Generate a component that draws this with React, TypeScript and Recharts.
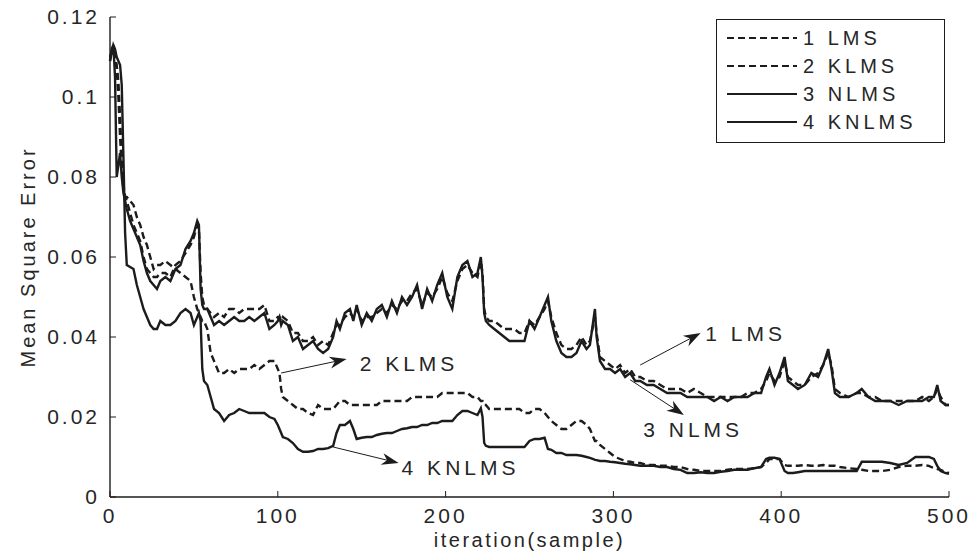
import React from "react";
import { LineChart, Line, XAxis, YAxis, Legend, ReferenceLine, ReferenceDot } from "recharts";

// iteration index (x) shared by all four learning curves
const iterations = [
  0, 1, 2, 3, 4, 5, 6, 7, 8, 9,
  10, 12, 14, 16, 18, 20, 22, 24, 26, 28,
  30, 33, 36, 39, 42, 45, 48, 50, 52, 53,
  54, 55, 56, 58, 60, 62, 65, 68, 71, 74,
  77, 80, 83, 86, 89, 92, 95, 98, 100, 101,
  102, 103, 106, 109, 112, 115, 118, 121, 124, 127,
  130, 133, 135, 137, 140, 143, 145, 147, 150, 153,
  156, 159, 162, 165, 168, 171, 174, 177, 180, 183,
  186, 189, 192, 195, 198, 201, 204, 207, 210, 213,
  216, 219, 221, 222, 223, 224, 226, 229, 232, 235,
  238, 241, 244, 247, 250, 253, 256, 259, 261, 263,
  266, 269, 272, 275, 278, 281, 284, 286, 288, 289,
  290, 292, 295, 298, 301, 304, 307, 310, 313, 316,
  320, 324, 328, 332, 336, 340, 344, 348, 352, 356,
  360, 364, 368, 372, 376, 380, 384, 388, 391, 393,
  396, 399, 402, 404, 407, 410, 414, 418, 422, 425,
  428, 430, 432, 435, 440, 445, 448, 452, 456, 460,
  465, 470, 475, 480, 484, 488, 491, 493, 495, 498,
  500,
];

const lms = [
  0.11, 0.111, 0.112, 0.11, 0.108, 0.104, 0.095, 0.085, 0.078, 0.075,
  0.074, 0.071, 0.068, 0.066, 0.064, 0.06, 0.057, 0.056, 0.055, 0.055,
  0.056, 0.056, 0.055, 0.058, 0.059, 0.061, 0.063, 0.065, 0.068, 0.067,
  0.056, 0.05, 0.048, 0.047, 0.046, 0.045, 0.046, 0.045, 0.047, 0.047,
  0.046, 0.047, 0.047, 0.047, 0.047, 0.048, 0.044, 0.044, 0.045, 0.045,
  0.044, 0.045, 0.044, 0.041, 0.041, 0.039, 0.039, 0.04, 0.038, 0.039,
  0.038, 0.041, 0.043, 0.043, 0.045, 0.046, 0.045, 0.047, 0.044, 0.045,
  0.045, 0.046, 0.047, 0.046, 0.048, 0.047, 0.049, 0.049, 0.051, 0.052,
  0.048, 0.051, 0.05, 0.052, 0.055, 0.051, 0.049, 0.054, 0.057, 0.058,
  0.056, 0.055, 0.059, 0.056, 0.047, 0.045, 0.044, 0.044, 0.043, 0.042,
  0.042, 0.042, 0.041, 0.041, 0.044, 0.043, 0.045, 0.047, 0.049, 0.045,
  0.041, 0.038, 0.037, 0.037, 0.038, 0.04, 0.038, 0.039, 0.043, 0.045,
  0.041, 0.035, 0.034, 0.033, 0.032, 0.033, 0.031, 0.032, 0.03, 0.03,
  0.029, 0.029, 0.028, 0.027, 0.027, 0.027, 0.026, 0.027, 0.026, 0.025,
  0.025, 0.025, 0.025, 0.025, 0.025, 0.026, 0.026, 0.027, 0.029, 0.031,
  0.029, 0.03, 0.034, 0.03, 0.029, 0.028, 0.028, 0.03, 0.031, 0.033,
  0.036, 0.033, 0.027, 0.026, 0.025, 0.026, 0.026, 0.025, 0.025, 0.024,
  0.024, 0.024, 0.024, 0.024, 0.025, 0.024, 0.025, 0.027, 0.025, 0.023,
  0.023,
];

const klms = [
  0.11, 0.111, 0.112, 0.11, 0.107, 0.1, 0.09, 0.082, 0.077, 0.075,
  0.075, 0.074, 0.073, 0.07, 0.068, 0.065, 0.063, 0.06, 0.057, 0.058,
  0.058, 0.059, 0.058, 0.057, 0.056, 0.055, 0.054, 0.05, 0.047, 0.046,
  0.045, 0.044, 0.044, 0.042, 0.036, 0.034, 0.031, 0.031, 0.032, 0.031,
  0.032, 0.032, 0.032, 0.033, 0.032, 0.033, 0.034, 0.034, 0.032, 0.031,
  0.027, 0.025, 0.024, 0.023, 0.022, 0.022, 0.021, 0.0205, 0.023, 0.022,
  0.022, 0.022, 0.023, 0.024, 0.024, 0.023, 0.023, 0.023, 0.023, 0.023,
  0.023, 0.023, 0.024, 0.024, 0.024, 0.024, 0.024, 0.024, 0.025, 0.025,
  0.025, 0.025, 0.025, 0.025, 0.026, 0.026, 0.026, 0.026, 0.026, 0.026,
  0.025, 0.025, 0.024, 0.024, 0.023, 0.023, 0.022, 0.022, 0.022, 0.022,
  0.022, 0.022, 0.022, 0.021, 0.021, 0.022, 0.022, 0.021, 0.02, 0.019,
  0.018, 0.017, 0.017, 0.018, 0.019, 0.019, 0.018, 0.017, 0.015, 0.014,
  0.014, 0.013, 0.012, 0.011, 0.01, 0.0095, 0.009, 0.0088, 0.0085, 0.0085,
  0.008, 0.008, 0.0078, 0.0078, 0.0075, 0.0075, 0.007, 0.0068, 0.0065, 0.0065,
  0.0065, 0.0065, 0.0068, 0.007, 0.007, 0.007, 0.0072, 0.0075, 0.0085, 0.0095,
  0.0095, 0.0095, 0.008, 0.0078, 0.0078, 0.0078, 0.008, 0.0078, 0.0078, 0.008,
  0.0078, 0.0078, 0.0078, 0.0075, 0.0072, 0.007, 0.0068, 0.0065, 0.0065, 0.0065,
  0.0068, 0.0075, 0.0078, 0.0078, 0.008, 0.0078, 0.0072, 0.007, 0.0068, 0.0062,
  0.006,
];

const nlms = [
  0.109, 0.112, 0.113, 0.105, 0.08, 0.083, 0.086, 0.08, 0.076, 0.074,
  0.072, 0.069, 0.067, 0.065, 0.063, 0.059, 0.056, 0.054, 0.053, 0.052,
  0.054, 0.055, 0.054, 0.057, 0.058, 0.062, 0.064, 0.066, 0.069, 0.068,
  0.052, 0.048, 0.047, 0.047, 0.045, 0.043, 0.044, 0.043, 0.044, 0.045,
  0.044, 0.044, 0.045, 0.044, 0.045, 0.046, 0.042, 0.043, 0.044, 0.045,
  0.043, 0.044, 0.043, 0.039, 0.04, 0.037, 0.038, 0.039, 0.037, 0.036,
  0.037, 0.04, 0.044, 0.042, 0.046, 0.047, 0.044, 0.048, 0.043, 0.046,
  0.044, 0.047, 0.048, 0.045, 0.049, 0.046, 0.05, 0.048, 0.05, 0.053,
  0.047, 0.052, 0.049, 0.053, 0.056, 0.05, 0.047, 0.055, 0.058, 0.059,
  0.055, 0.056, 0.06, 0.055, 0.046, 0.044, 0.043, 0.042, 0.041, 0.04,
  0.039, 0.039, 0.039, 0.039, 0.044, 0.042, 0.045, 0.048, 0.05, 0.044,
  0.039, 0.036, 0.035, 0.035, 0.036, 0.039, 0.037, 0.038, 0.044, 0.047,
  0.04, 0.034, 0.032, 0.032, 0.031, 0.032, 0.03, 0.031, 0.029, 0.029,
  0.028, 0.028, 0.027, 0.026, 0.026, 0.026, 0.025, 0.025, 0.025, 0.025,
  0.024, 0.025, 0.024, 0.025, 0.025, 0.025, 0.026, 0.026, 0.03, 0.032,
  0.028, 0.031, 0.035, 0.029, 0.028, 0.027, 0.028, 0.031, 0.03, 0.033,
  0.037, 0.032, 0.026, 0.025, 0.025, 0.026, 0.027, 0.025, 0.024, 0.024,
  0.024, 0.023, 0.024, 0.024, 0.024, 0.025, 0.025, 0.028, 0.024, 0.023,
  0.023,
];

const knlms = [
  0.109, 0.111, 0.113, 0.112, 0.11, 0.109, 0.108, 0.103, 0.085, 0.066,
  0.058, 0.0575, 0.057, 0.053, 0.05, 0.047, 0.045, 0.043, 0.042, 0.042,
  0.044, 0.043, 0.043, 0.044, 0.046, 0.047, 0.046, 0.043, 0.045, 0.046,
  0.044, 0.032, 0.029, 0.028, 0.025, 0.022, 0.021, 0.019, 0.0205, 0.021,
  0.022, 0.0215, 0.021, 0.021, 0.021, 0.021, 0.02, 0.0195, 0.018, 0.017,
  0.016, 0.015, 0.0145, 0.0135, 0.012, 0.0113, 0.0113, 0.0115, 0.012, 0.012,
  0.0122, 0.0128, 0.016, 0.018, 0.018, 0.019, 0.017, 0.0145, 0.0148, 0.015,
  0.015, 0.0155, 0.0158, 0.016, 0.016, 0.0165, 0.017, 0.0172, 0.0175, 0.0175,
  0.018, 0.018, 0.0185, 0.0185, 0.019, 0.019, 0.019, 0.0205, 0.0215, 0.0215,
  0.021, 0.0205, 0.0222, 0.02, 0.0135, 0.0128, 0.0125, 0.0125, 0.0125, 0.0125,
  0.0125, 0.0125, 0.0125, 0.0125, 0.014, 0.0145, 0.0145, 0.0148, 0.012, 0.0118,
  0.011, 0.011, 0.0105, 0.0105, 0.0105, 0.0103, 0.01, 0.0098, 0.0095, 0.0093,
  0.0092, 0.009, 0.009, 0.0088, 0.0087, 0.0085, 0.0083, 0.0082, 0.008, 0.0078,
  0.0078, 0.0078, 0.0075, 0.0075, 0.007, 0.0068, 0.006, 0.006, 0.0062, 0.006,
  0.006, 0.0063, 0.0065, 0.0068, 0.0068, 0.0068, 0.0072, 0.0075, 0.0095, 0.0098,
  0.0098, 0.0095, 0.0065, 0.006, 0.006, 0.0062, 0.0065, 0.0065, 0.0065, 0.0065,
  0.0065, 0.0065, 0.0065, 0.0065, 0.0065, 0.0065, 0.0088, 0.0088, 0.0088, 0.0088,
  0.0085, 0.008, 0.0085, 0.01, 0.01, 0.01, 0.0095, 0.0078, 0.0065, 0.006,
  0.0058,
];

const xTicks = [0, 100, 200, 300, 400, 500];
const yTicks = [0, 0.02, 0.04, 0.06, 0.08, 0.1, 0.12];

const seriesNames = { lms: "1 LMS", klms: "2 KLMS", nlms: "3 NLMS", knlms: "4 KNLMS" };
const seriesDash = { lms: "7 4", klms: "7 4", nlms: undefined, knlms: undefined };

// arrow annotations in data units: [iter, mse] -> [iter, mse]
const arrows = [
  { from: [316, 0.033], to: [352, 0.041] },
  { from: [310, 0.0293], to: [342, 0.0205] },
  { from: [102, 0.031], to: [141, 0.0345] },
  { from: [133, 0.0125], to: [172, 0.0085] },
];
const notes = [
  { text: "1 LMS", at: [353, 0.041] },
  { text: "3 NLMS", at: [316, 0.0168] },
  { text: "2 KLMS", at: [147, 0.0335] },
  { text: "4 KNLMS", at: [172, 0.0073] },
];

const data = iterations.map((iter, i) => ({
  iter,
  lms: lms[i],
  klms: klms[i],
  nlms: nlms[i],
  knlms: knlms[i],
}));

const INK = "#1c1c1c";
const TXT = "#262626";
const FONT = "'Liberation Sans', Arial, Helvetica, sans-serif";
const tickText = { fontFamily: FONT, fontSize: 21, letterSpacing: 3, fill: TXT };
const noteText = { fontFamily: FONT, fontSize: 21, letterSpacing: 4, fill: TXT };

const BottomTick = ({ x, y, payload }) => (
  <g>
    <line x1={x} y1={y} x2={x} y2={y - 6} stroke={INK} strokeWidth={1} />
    <text x={x} y={y + 26} textAnchor="middle" style={tickText}>{payload.value}</text>
  </g>
);
const TopTick = ({ x, y }) => (
  <line x1={x} y1={y} x2={x} y2={y + 6} stroke={INK} strokeWidth={1} />
);
const LeftTick = ({ x, y, payload }) => (
  <g>
    <line x1={x} y1={y} x2={x + 6} y2={y} stroke={INK} strokeWidth={1} />
    <text x={x - 10} y={y + 7} textAnchor="end" style={tickText}>{String(payload.value)}</text>
  </g>
);
const RightTick = ({ x, y }) => (
  <line x1={x} y1={y} x2={x - 6} y2={y} stroke={INK} strokeWidth={1} />
);

const arrowShape = ({ x1, y1, x2, y2 }) => {
  const a = Math.atan2(y2 - y1, x2 - x1);
  const c = Math.cos(a), s = Math.sin(a);
  const len = 17, half = 6;
  const bx = x2 - len * c, by = y2 - len * s;
  const nx = x2 - 0.7 * len * c, ny = y2 - 0.7 * len * s;
  const pts = [
    [x2, y2],
    [bx - half * s, by + half * c],
    [nx, ny],
    [bx + half * s, by - half * c],
  ].map(p => p.join(",")).join(" ");
  return (
    <g>
      <line x1={x1} y1={y1} x2={nx} y2={ny} stroke={INK} strokeWidth={1} />
      <polygon points={pts} fill={INK} />
    </g>
  );
};

function LegendBox({ payload }) {
  return (
    <div style={{ border: `1px solid ${INK}`, background: "#fff", padding: "4px 0 6px 10px", boxSizing: "border-box", width: 229 }}>
      {(payload || []).map(p => (
        <div key={p.value} style={{ display: "flex", alignItems: "center", height: 28 }}>
          <svg width={70} height={6}>
            <line x1={0} y1={3} x2={70} y2={3} stroke={INK} strokeWidth={2} strokeDasharray={seriesDash[p.dataKey]} />
          </svg>
          <span style={{ marginLeft: 6, fontFamily: FONT, fontSize: 20, letterSpacing: 4, color: TXT }}>{p.value}</span>
        </div>
      ))}
    </div>
  );
}

export default function App() {
  return (
    <div style={{ position: "absolute", left: 0, top: 0, width: 971, height: 553, background: "#fff" }}>
      <LineChart width={971} height={553} data={data} margin={{ top: 17, right: 22, bottom: 0, left: 0 }}>
        <XAxis dataKey="iter" type="number" domain={[0, 500]} ticks={xTicks} interval={0}
               height={56} tickSize={0} tickMargin={0} tick={<BottomTick />}
               axisLine={{ stroke: INK, strokeWidth: 1.4 }}
               label={{ value: "iteration(sample)", position: "insideBottom", offset: 6,
                        style: { fontFamily: FONT, fontSize: 20, letterSpacing: 2.5, fill: TXT } }} />
        <XAxis xAxisId="top" orientation="top" dataKey="iter" type="number" domain={[0, 500]} ticks={xTicks}
               interval={0} height={0} tickSize={0} tickMargin={0} tick={<TopTick />}
               axisLine={{ stroke: INK, strokeWidth: 1.4 }} />
        <YAxis type="number" domain={[0, 0.12]} ticks={yTicks} interval={0} width={110}
               tickSize={0} tickMargin={0} tick={<LeftTick />}
               axisLine={{ stroke: INK, strokeWidth: 1.4 }}
               label={({ viewBox }) => {
                 const cx = viewBox.x + 28;
                 const cy = viewBox.y + viewBox.height / 2;
                 return (
                   <text x={cx} y={cy} transform={`rotate(-90 ${cx} ${cy})`} textAnchor="middle"
                         dominantBaseline="central"
                         style={{ fontFamily: FONT, fontSize: 20, letterSpacing: 3, fill: TXT }}>
                     Mean Square Error
                   </text>
                 );
               }} />
        <YAxis yAxisId="right" orientation="right" type="number" domain={[0, 0.12]} ticks={yTicks}
               interval={0} width={0} tickSize={0} tickMargin={0} tick={<RightTick />}
               axisLine={{ stroke: INK, strokeWidth: 1.4 }} />

        <Line dataKey="lms" name={seriesNames.lms} stroke={INK} strokeWidth={2.4} strokeDasharray={seriesDash.lms}
              dot={false} isAnimationActive={false} />
        <Line dataKey="klms" name={seriesNames.klms} stroke={INK} strokeWidth={2.4} strokeDasharray={seriesDash.klms}
              dot={false} isAnimationActive={false} />
        <Line dataKey="nlms" name={seriesNames.nlms} stroke={INK} strokeWidth={2.4}
              dot={false} isAnimationActive={false} />
        <Line dataKey="knlms" name={seriesNames.knlms} stroke={INK} strokeWidth={2.4}
              dot={false} isAnimationActive={false} />

        {arrows.map((a, i) => (
          <ReferenceLine key={`arrow-${i}`} segment={[{ x: a.from[0], y: a.from[1] }, { x: a.to[0], y: a.to[1] }]}
                         shape={arrowShape} />
        ))}
        {notes.map(n => (
          <ReferenceDot key={n.text} x={n.at[0]} y={n.at[1]} r={1}
                        shape={({ cx, cy }) => (
                          <text x={cx + 3} y={cy} dominantBaseline="central" style={noteText}>{n.text}</text>
                        )} />
        ))}

        <Legend layout="vertical" align="center" verticalAlign="middle" content={<LegendBox />}
                wrapperStyle={{ top: 19, left: 716, width: 229, bottom: "auto", right: "auto" }} />
      </LineChart>
    </div>
  );
}
